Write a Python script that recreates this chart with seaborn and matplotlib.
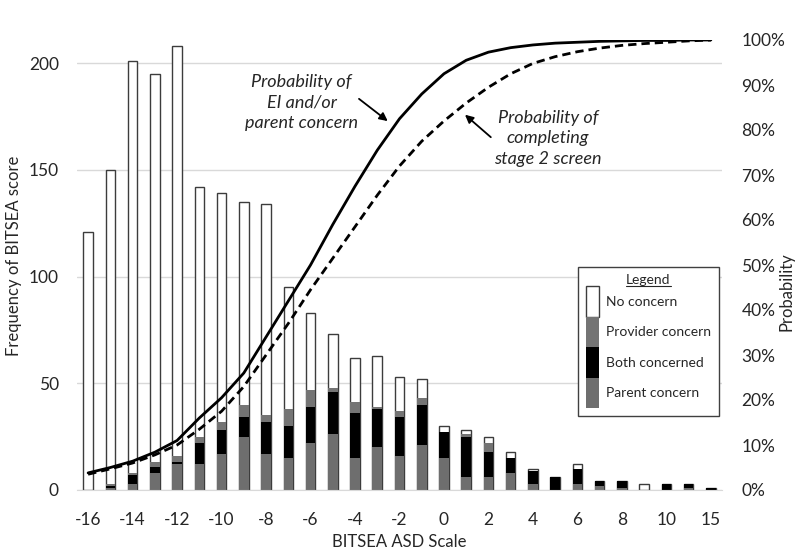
import numpy as np
import pandas as pd
import matplotlib
matplotlib.use('Agg')
from matplotlib import pyplot as plt
from matplotlib.patches import Patch
from matplotlib.lines import Line2D
import seaborn as sns

# BITSEA ASD scale categories (x axis)
scores = [-16, -15, -14, -13, -12, -11, -10, -9, -8, -7, -6, -5, -4, -3, -2, -1,
          0, 1, 2, 3, 4, 5, 6, 7, 8, 9, 10, 11, 15]

# stacked counts, bottom to top
parent_concern = [0, 1, 3, 8, 12, 12, 17, 25, 17, 15, 22, 26, 15, 20, 16, 21,
                  15, 6, 6, 8, 3, 0, 3, 2, 1, 0, 0, 1, 0]
both_concerned = [0, 1, 4, 3, 1, 10, 11, 9, 15, 15, 17, 20, 21, 18, 18, 19,
                  12, 19, 12, 7, 6, 6, 7, 2, 3, 0, 3, 2, 1]
provider_concern = [0, 1, 1, 2, 3, 3, 4, 6, 3, 8, 8, 2, 5, 1, 3, 3,
                    0, 1, 4, 0, 0, 0, 0, 0, 0, 0, 0, 0, 0]
no_concern = [121, 147, 193, 182, 192, 117, 107, 95, 99, 57, 36, 25, 21, 24, 16, 9,
              3, 2, 3, 3, 1, 0, 2, 0, 0, 3, 0, 0, 0]

# probability curves (%)
p_ei_parent = [3.8, 5.0, 6.4, 8.4, 11.0, 16.0, 20.5, 26.0, 34.0, 42.0, 50.0, 59.0,
               67.5, 75.5, 82.5, 88.0, 92.5, 95.5, 97.3, 98.3, 98.9, 99.3, 99.5,
               99.7, 99.8, 99.9, 99.9, 100.0, 100.0]
p_stage2 = [3.5, 4.7, 6.0, 7.8, 10.0, 13.5, 17.5, 23.0, 30.0, 37.0, 44.5, 51.5,
            58.5, 65.5, 72.0, 77.5, 82.0, 86.0, 89.5, 92.5, 94.8, 96.3, 97.4,
            98.2, 98.8, 99.2, 99.5, 99.8, 100.0]

sns.set_style('white')
plt.rcParams['font.family'] = ['Lato', 'DejaVu Sans']
txt_color = '#262626'

pos = np.arange(len(scores))
df = pd.DataFrame({'pos': pos, 'parent': parent_concern, 'both': both_concerned,
                   'provider': provider_concern, 'none': no_concern})
df['l2'] = df['parent'] + df['both']
df['l3'] = df['l2'] + df['provider']
df['total'] = df['l3'] + df['none']

fig, ax = plt.subplots(figsize=(8, 5.55), dpi=100)
fig.subplots_adjust(left=77/800, right=722/800, top=1-40/555, bottom=1-490/555)
ax.grid(axis='y', color='#d9d9d9', lw=1)
ax.set_axisbelow(True)

# draw cumulative totals from the top layer down
layers = [('total', 'white', 1.0), ('l3', '#747474', 0), ('l2', 'black', 0), ('parent', '#6e6e6e', 0)]
for col, c, lw in layers:
    sns.barplot(data=df, x='pos', y=col, color=c, saturation=1, width=0.43,
                edgecolor='#3c3c3c' if lw else c, linewidth=lw, errorbar=None, ax=ax)

ax2 = ax.twinx()
sns.lineplot(x=pos, y=p_ei_parent, ax=ax2, color='black', lw=2.0)
sns.lineplot(x=pos, y=p_stage2, ax=ax2, color='black', lw=2.0, linestyle=(0, (3.0, 1.8)))

ax.set_xlim(-0.5, len(scores) - 0.5)
ax.set_ylim(0, 210.8)
ax.set_yticks([0, 50, 100, 150, 200])
ax.set_xticks(pos[::2])
ax.set_xticklabels([str(s) for s in scores[::2]])
ax2.set_ylim(0, 100)
ax2.set_yticks(range(0, 101, 10))
ax2.set_yticklabels([f'{v}%' for v in range(0, 101, 10)])

for a in (ax, ax2):
    for s in a.spines.values():
        s.set_visible(False)
ax.spines['bottom'].set_visible(True)
ax.spines['bottom'].set_color('#d9d9d9')
ax.tick_params(axis='x', length=0, pad=16, labelsize=12.5, colors=txt_color)
ax.tick_params(axis='y', length=0, pad=13, labelsize=12.5, colors=txt_color)
ax2.tick_params(axis='y', length=0, pad=14, labelsize=12.5, colors=txt_color)

ax.set_xlabel('BITSEA ASD Scale', fontsize=12, color=txt_color)
ax.set_ylabel('Frequency of BITSEA score', fontsize=12, color=txt_color)
ax2.set_ylabel('Probability', fontsize=12, color=txt_color)
ax.xaxis.set_label_coords(0.5, -0.097)
ax.yaxis.set_label_coords(-0.085, 0.52)
ax2.yaxis.set_label_coords(1.087, 0.44)

# annotations
ax2.text(9.6, 86.2, 'Probability of\nEI and/or\nparent concern', ha='center', va='center',
         fontsize=13, style='italic', color=txt_color, linespacing=1.35)
ax2.annotate('', xy=(13.57, 81.6), xytext=(12.08, 87.3),
             arrowprops=dict(arrowstyle='-|>', color='black', lw=1.3, mutation_scale=12))
ax2.text(20.67, 78.2, 'Probability of\ncompleting\nstage 2 screen', ha='center', va='center',
         fontsize=13, style='italic', color=txt_color, linespacing=1.35)
ax2.annotate('', xy=(16.85, 83.8), xytext=(18.2, 78.0),
             arrowprops=dict(arrowstyle='-|>', color='black', lw=1.3, mutation_scale=12))

handles = [Patch(facecolor='white', edgecolor='#3c3c3c', lw=1),
           Patch(facecolor='#747474', edgecolor='none'),
           Patch(facecolor='black', edgecolor='none'),
           Patch(facecolor='#6e6e6e', edgecolor='none')]
labels = ['No concern', 'Provider concern', 'Both concerned', 'Parent concern']
leg = ax2.legend(handles, labels, title='Legend', loc='upper left', bbox_to_anchor=(0.777, 0.496),
                 borderaxespad=0, fontsize=10, title_fontsize=10, labelspacing=0,
                 handleheight=3.0, handlelength=0.95, handletextpad=0.5, fancybox=False,
                 edgecolor='#404040', framealpha=1, borderpad=0.55)
leg.get_frame().set_linewidth(1.0)
for t in leg.get_texts():
    t.set_color(txt_color)

fig.canvas.draw()
tb = leg.get_title().get_window_extent().transformed(fig.transFigure.inverted())
fig.add_artist(Line2D([tb.x0, tb.x1], [tb.y0 + 0.001, tb.y0 + 0.001], color=txt_color, lw=0.8))

fig.savefig('out.png', dpi=100)
